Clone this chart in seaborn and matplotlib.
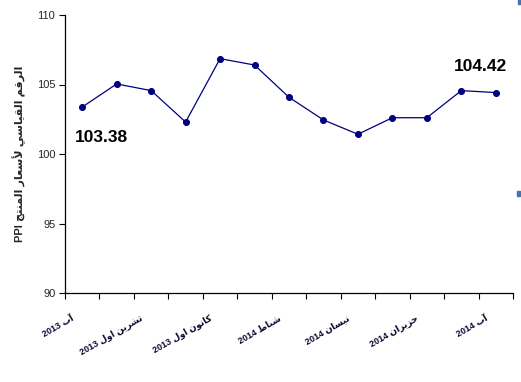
import matplotlib
matplotlib.use("Agg")
import matplotlib.pyplot as plt
import matplotlib.transforms as mtransforms
from matplotlib.patches import Rectangle
import seaborn as sns
import numpy as np
import pandas as pd

# ---- data ----
months = ["2013-08", "2013-09", "2013-10", "2013-11", "2013-12", "2014-01", "2014-02",
          "2014-03", "2014-04", "2014-05", "2014-06", "2014-07", "2014-08"]
ppi = [103.38, 105.04, 104.56, 102.30, 106.86, 106.40, 104.08,
       102.45, 101.42, 102.61, 102.61, 104.56, 104.42]
# Arabic labels written in visual (shaped, left-to-right) order
tick_labels = [
    "2013 \uFE8F\uFE81",                                               # آب 2013
    "2013 \uFEDD\uFEED\uFE8D \uFEE6\uFEF3\uFEAE\uFEB8\uFE97",          # تشرين اول 2013
    "2013 \uFEDD\uFEED\uFE8D \uFEE5\uFEEE\uFEE7\uFE8E\uFEDB",          # كانون اول 2013
    "2014 \uFEC1\uFE8E\uFE92\uFEB7",                                   # شباط 2014
    "2014 \uFEE5\uFE8E\uFEB4\uFEF4\uFEE7",                             # نيسان 2014
    "2014 \uFEE5\uFE8D\uFEAE\uFEF3\uFEB0\uFEA3",                       # حزيران 2014
    "2014 \uFE8F\uFE81",                                               # آب 2014
]
tick_positions = [0, 2, 4, 6, 8, 10, 12]
y_ticks = [90, 95, 100, 105, 110]
y_label = ("PPI \uFE9E\uFE98\uFEE8\uFEE4\uFEDF\uFE8D \uFEAD\uFE8E\uFECC\uFEB3\uFEF7 "
           "\uFEF2\uFEB3\uFE8E\uFEF4\uFED8\uFEDF\uFE8D \uFEE2\uFED7\uFEAE\uFEDF\uFE8D")
# الرقم القياسي لأسعار المنتج PPI

df = pd.DataFrame({"pos": np.arange(len(months)), "month": months, "ppi": ppi})

sns.set_theme(style="white")
plt.rcParams["font.family"] = ["Liberation Sans", "DejaVu Sans"]

fig = plt.figure(figsize=(5.21, 3.82), dpi=100)
ax = fig.add_axes([65 / 521, 1 - 293 / 382, (513 - 65) / 521, (293 - 15) / 382])

navy = "#000080"
sns.lineplot(data=df, x="pos", y="ppi", ax=ax, color=navy, linewidth=0.9,
             marker="o", markersize=4.3, markeredgecolor=navy, markerfacecolor=navy,
             sort=False)

ax.set_xlim(-0.5, len(months) - 0.5)
ax.set_ylim(90, 110)
ax.set_yticks(y_ticks)
ax.set_yticklabels([str(v) for v in y_ticks], fontsize=8)

ax.set_xticks(tick_positions)
ax.set_xticklabels(tick_labels, fontsize=6.5, fontweight="bold", color="#0a0a30",
                   rotation=30, ha="right", rotation_mode="anchor",
                   family=["Liberation Sans", "DejaVu Sans"])
ax.set_xticks(np.arange(-0.5, len(months), 1.0), minor=True)
ax.tick_params(axis="x", which="major", length=0, pad=15)
ax.tick_params(axis="x", which="minor", length=4, width=0.8, color="black",
               direction="out", bottom=True)
ax.tick_params(axis="y", length=4, width=0.8, color="black", direction="out",
               left=True, pad=3)
offset = mtransforms.ScaledTranslation(-11 / 100, 0, fig.dpi_scale_trans)
for lbl in ax.get_xticklabels():
    lbl.set_transform(lbl.get_transform() + offset)

for s in ["top", "right"]:
    ax.spines[s].set_visible(False)
for s in ["left", "bottom"]:
    ax.spines[s].set_color("black")
    ax.spines[s].set_linewidth(0.9)

ax.set_xlabel("")
ax.set_ylabel(y_label, fontsize=8, fontweight="bold", labelpad=8,
              family=["Liberation Sans", "DejaVu Sans"])

# data labels for first and last points
ax.annotate(f"{ppi[0]:.2f}", (df["pos"].iloc[0], ppi[0]), xytext=(14, -22),
            textcoords="offset points", ha="center", va="center",
            fontsize=12.5, fontweight="bold", color="black")
ax.annotate(f"{ppi[-1]:.2f}", (df["pos"].iloc[-1], ppi[-1]), xytext=(-11, 19),
            textcoords="offset points", ha="center", va="center",
            fontsize=12.5, fontweight="bold", color="black")

# small selection handles of the original chart frame
fig.patches.append(Rectangle((518 / 521, 1 - 4 / 382), 3 / 521, 4 / 382,
                             transform=fig.transFigure, color="#4a6fae"))
fig.patches.append(Rectangle((517 / 521, 1 - 196 / 382), 3 / 521, 5 / 382,
                             transform=fig.transFigure, color="#4a6fae"))

fig.savefig("out.png", dpi=100)
